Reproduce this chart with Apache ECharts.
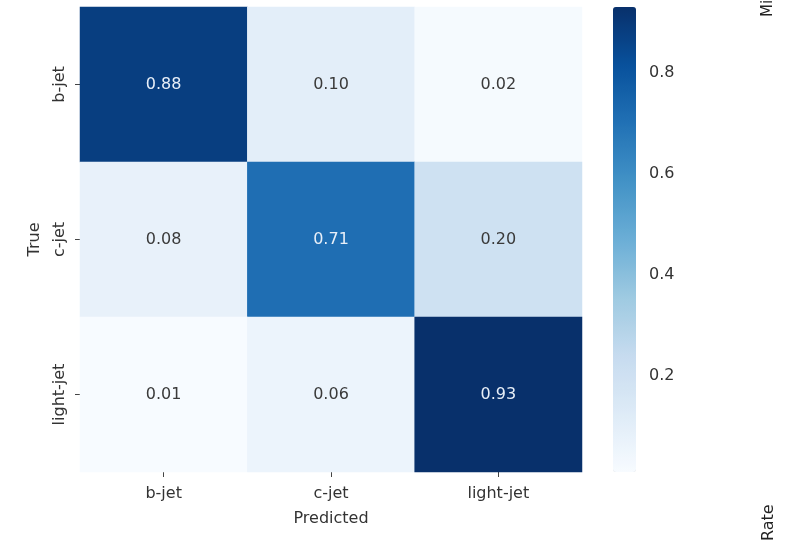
<!DOCTYPE html>
<html>
<head>
<meta charset="utf-8">
<script src="https://cdn.jsdelivr.net/npm/echarts@6/dist/echarts.min.js"></script>
<style>
  html, body { margin: 0; padding: 0; background: #fff; }
  #cm { width: 794px; height: 541px; }
</style>
</head>
<body>
<div id="cm"></div>
<script>
// classes, rows = true label, cols = predicted label
var classNames = ['b-jet', 'c-jet', 'light-jet'];
var rowBJet = [0.88, 0.10, 0.02];
var rowCJet = [0.08, 0.71, 0.20];
var rowLightJet = [0.01, 0.06, 0.93];
var colorbarTicks = [0.2, 0.4, 0.6, 0.8];
var cbMin = 0.01, cbMax = 0.93;

// matplotlib Blues
var blues = ['#f7fbff', '#deebf7', '#c6dbef', '#9ecae1', '#6baed6',
             '#4292c6', '#2171b5', '#08519c', '#08306b'];

var rows = [rowBJet, rowCJet, rowLightJet];
var heatData = [];
for (var r = 0; r < rows.length; r++) {
    for (var c = 0; c < rows[r].length; c++) {
        var v = rows[r][c];
        heatData.push({
            value: [c, r, v],
            label: { color: v > 0.5 ? '#e8eff8' : '#3a3a3a' }
        });
    }
}

var font = 'DejaVu Sans';
var chart = echarts.init(document.getElementById('cm'));
var option = {
    backgroundColor: '#fff',
    textStyle: { fontFamily: font },
    grid: [
        { left: 80, top: 7, width: 502, height: 465 },
        { left: 613, top: 7, width: 23, height: 465 }
    ],
    xAxis: [{
        gridIndex: 0,
        type: 'category',
        data: classNames,
        name: 'Predicted',
        nameLocation: 'middle',
        nameGap: 39,
        nameTextStyle: { fontSize: 16, color: '#333', fontFamily: font },
        axisLine: { show: false },
        axisTick: { show: true, alignWithLabel: true, length: 5, lineStyle: { color: '#444' } },
        axisLabel: { fontSize: 16, color: '#333', margin: 14, fontFamily: font },
        splitLine: { show: false }
    }, {
        gridIndex: 1,
        type: 'value',
        show: false
    }],
    yAxis: [{
        gridIndex: 0,
        type: 'category',
        data: classNames,
        inverse: true,
        name: 'True',
        nameLocation: 'middle',
        nameGap: 37,
        nameTextStyle: { fontSize: 16, color: '#333', fontFamily: font },
        axisLine: { show: false },
        axisTick: { show: true, alignWithLabel: true, length: 5, lineStyle: { color: '#444' } },
        axisLabel: { fontSize: 16, color: '#333', rotate: 90, margin: 12, fontFamily: font },
        splitLine: { show: false }
    }, {
        gridIndex: 1,
        type: 'value',
        position: 'right',
        min: cbMin,
        max: cbMax,
        axisLine: { show: false },
        axisTick: { show: true, length: 6, customValues: colorbarTicks, lineStyle: { color: '#444' } },
        axisLabel: {
            fontSize: 16, color: '#333', margin: 13, fontFamily: font,
            customValues: colorbarTicks,
            formatter: function (v) { return v.toFixed(1); }
        },
        splitLine: { show: false }
    }],
    visualMap: {
        type: 'continuous',
        min: cbMin,
        max: cbMax,
        dimension: 2,
        seriesIndex: 0,
        calculable: false,
        orient: 'vertical',
        left: 613,
        top: 7,
        padding: 0,
        itemWidth: 23,
        itemHeight: 465,
        text: null,
        showLabel: false,
        inRange: { color: blues }
    },
    series: [{
        type: 'heatmap',
        xAxisIndex: 0,
        yAxisIndex: 0,
        data: heatData,
        label: {
            show: true,
            fontSize: 16,
            fontFamily: font,
            formatter: function (p) { return p.value[2].toFixed(2); }
        },
        itemStyle: { borderWidth: 0 },
        emphasis: { disabled: true }
    }],
    graphic: [
        // cut-off titles of a neighbouring figure at the right edge
        { type: 'text', x: 768, y: 17, rotation: Math.PI / 2,
          style: { text: 'Mi', fontSize: 15, fontFamily: font, fill: '#222',
                   textAlign: 'left', textVerticalAlign: 'middle' } },
        { type: 'text', x: 769, y: 541, rotation: Math.PI / 2,
          style: { text: 'Rate', fontSize: 16, fontFamily: font, fill: '#222',
                   textAlign: 'left', textVerticalAlign: 'middle' } }
    ]
};
chart.setOption(option);
</script>
</body>
</html>
